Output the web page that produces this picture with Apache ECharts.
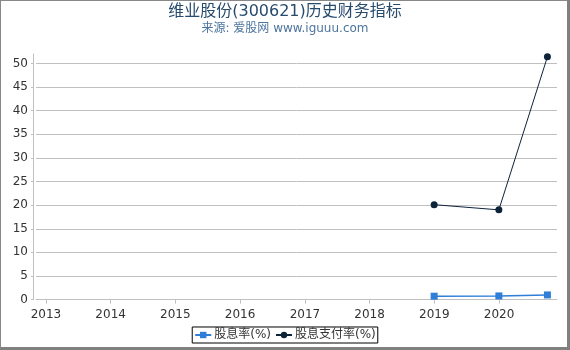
<!DOCTYPE html>
<html>
<head>
<meta charset="utf-8">
<script src="https://cdn.jsdelivr.net/npm/echarts@6/dist/echarts.min.js"></script>
<style>
html, body { margin: 0; padding: 0; background: #fff; }
#wrap { position: relative; width: 570px; height: 350px; }
#chart { position: absolute; left: 0; top: 0; width: 570px; height: 350px; }
#frame { position: absolute; left: 0; top: 0; width: 570px; height: 350px; box-sizing: border-box;
  border-left: 1px solid #888; border-top: 1px solid #888; border-right: 3px solid #808080; border-bottom: 3px solid #808080; pointer-events: none; }
</style>
</head>
<body>
<div id="wrap"><div id="chart"></div><div id="frame"></div></div>
<script>
// 报告期
var dates = ["2018-12-31", "2019-12-31", "2020-09-30"];
// 股息率(%)
var yieldRate = [0.72, 0.78, 0.99];
// 股息支付率(%)
var payoutRate = [20.1, 19.0, 51.4];

var FONT = "DejaVu Sans, Noto Sans CJK SC, sans-serif";
var chart = echarts.init(document.getElementById("chart"));

function pairs(vals) {
    var out = [];
    for (var i = 0; i < dates.length; i++) {
        out.push([dates[i], vals[i]]);
    }
    return out;
}

var option = {
    animation: false,
    title: {
        text: "维业股份(300621)历史财务指标",
        subtext: "来源: 爱股网 www.iguuu.com",
        left: "center",
        top: -1,
        itemGap: 3,
        textStyle: { fontSize: 16, fontWeight: "normal", color: "#274b6d", fontFamily: FONT },
        subtextStyle: { fontSize: 12, color: "#4d759e", fontFamily: FONT }
    },
    grid: { left: 36, right: 13, top: 54, bottom: 50.4, containLabel: false },
    legend: {
        bottom: 7,
        left: "center",
        borderColor: "#000",
        borderWidth: 1,
        borderRadius: 0,
        padding: [2, 2, 2, 2],
        itemGap: 4,
        itemWidth: 16,
        itemHeight: 8,
        textStyle: { fontSize: 12, color: "#333", fontFamily: FONT, padding: [0, 0, 0, -2] },
        data: ["股息率(%)", "股息支付率(%)"]
    },
    xAxis: {
        type: "time",
        min: "2012-11-06",
        max: "2020-11-23",
        offset: 4,
        splitNumber: 8,
        minInterval: 365 * 86400000,
        axisLine: { lineStyle: { color: "#c0c0c0" } },
        axisTick: { show: true, length: 4, lineStyle: { color: "#c0c0c0" } },
        splitLine: { show: false },
        axisLabel: {
            formatter: "{yyyy}",
            color: "#333",
            fontSize: 12,
            fontFamily: "DejaVu Sans",
            showMinLabel: false,
            showMaxLabel: false,
            margin: 5
        }
    },
    yAxis: {
        type: "value",
        min: 0,
        max: 52,
        interval: 5,
        offset: 3,
        axisLine: { show: true, lineStyle: { color: "#c0c0c0" } },
        axisTick: { show: true, length: 2, lineStyle: { color: "#c0c0c0" } },
        splitLine: { show: true, showMaxLine: false, showMinLine: false, lineStyle: { color: "#c0c0c0" } },
        axisLabel: {
            color: "#333",
            fontSize: 12,
            fontFamily: "DejaVu Sans",
            showMaxLabel: false,
            margin: 5
        }
    },
    series: [
        {
            name: "股息率(%)",
            type: "line",
            data: pairs(yieldRate),
            symbol: "rect",
            symbolSize: 7,
            color: "#2f7ed8",
            lineStyle: { width: 1.5, color: "#2f7ed8" },
            itemStyle: { color: "#2f7ed8" }
        },
        {
            name: "股息支付率(%)",
            type: "line",
            data: pairs(payoutRate),
            symbol: "circle",
            symbolSize: 7,
            color: "#0d233a",
            lineStyle: { width: 1, color: "#0d233a" },
            itemStyle: { color: "#0d233a" }
        }
    ]
};
chart.setOption(option);
</script>
</body>
</html>
